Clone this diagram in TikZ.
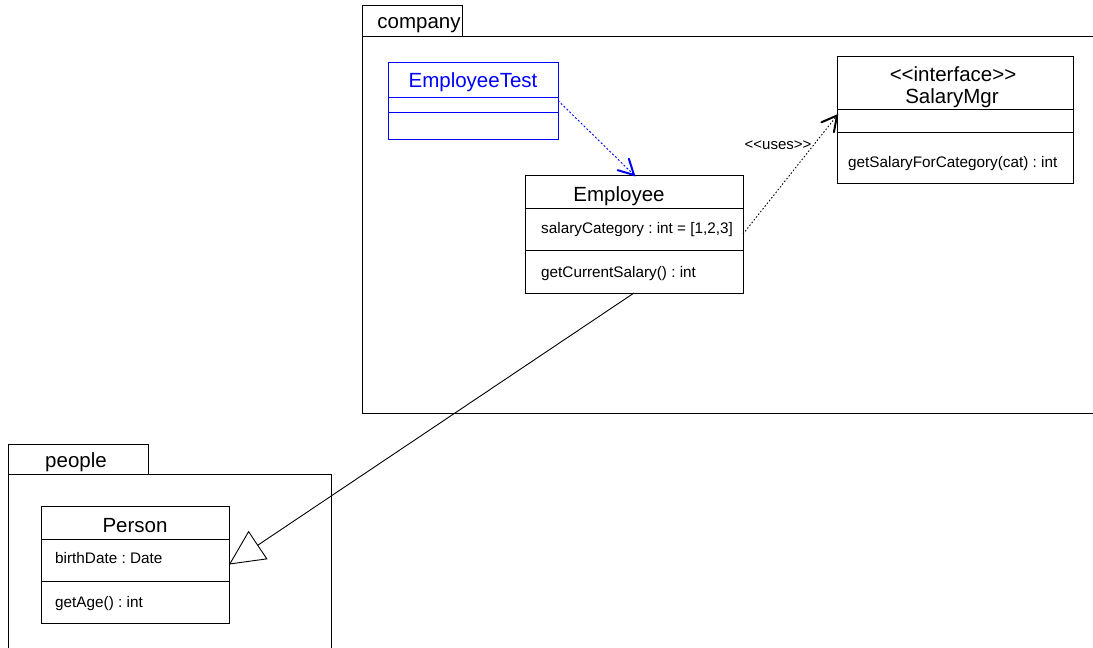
\documentclass[tikz,border=0pt]{standalone}
\usepackage{fontspec}
\setmainfont{Liberation Sans}
\usetikzlibrary{arrows.meta,calc}
\definecolor{testblue}{RGB}{0,0,255}
\frenchspacing
\begin{document}
\begin{tikzpicture}[x=1pt,y=-1pt,
  pkgline/.style={draw=black, line width=0.9pt},
  classbox/.style={draw, line width=0.9pt, inner sep=0pt, outer sep=0pt, anchor=north west},
  divider/.style={line width=0.9pt},
  pkgname/.style={font=\fontsize{20.5}{24}\selectfont, anchor=base, inner sep=0pt},
  clsname/.style={font=\fontsize{20.5}{24}\selectfont, anchor=base, inner sep=0pt},
  member/.style={font=\fontsize{15.3}{18}\selectfont, anchor=base west, inner sep=0pt},
  stereo/.style={font=\fontsize{15}{18}\selectfont, anchor=base, inner sep=0pt},
  openhead/.style={solid, line width=2pt, line cap=round, line join=miter},
  depend/.style={testblue, line width=0.9pt, dash pattern=on 2pt off 2pt},
  usage/.style={black, line width=0.9pt, dash pattern=on 1.5pt off 2pt},
  generalize/.style={black, line width=0.9pt,
    -{Triangle[open, length=35pt, width=34pt, line width=0.9pt]}}]
\useasboundingbox (0,0) rectangle (1093,648);
\clip (0,0) rectangle (1093,648);

% ---- package: company ----
\draw[pkgline] (362,5) rectangle (462,36);
\draw[pkgline] (362,36) rectangle (1110,413);
\node[pkgname] (companylbl) at (419,28) {company};

% ---- package: people ----
\draw[pkgline] (8,444) rectangle (148,474);
\draw[pkgline] (8,474) rectangle (331,660);
\node[pkgname] (peoplelbl) at (76,467) {people};

% ---- class EmployeeTest ----
\node[classbox, draw=testblue, minimum width=170pt, minimum height=77pt] (etest) at (388,62) {};
\draw[divider, testblue] (388,97) -- (558,97);
\draw[divider, testblue] (388,112) -- (558,112);
\node[clsname, text=testblue] (etestname) at (473,87) {EmployeeTest};

% ---- class Employee ----
\node[classbox, minimum width=218pt, minimum height=118pt] (emp) at (525,175) {};
\draw[divider] (525,208) -- (743,208);
\draw[divider] (525,250) -- (743,250);
\node[clsname] (empname) at (619,201) {Employee};
\node[member] (empattr) at (541,233) {salaryCategory : int = [1,2,3]};
\node[member] (empop) at (541,277) {getCurrentSalary() : int};

% ---- interface SalaryMgr ----
\node[classbox, minimum width=236pt, minimum height=127pt] (mgr) at (837,56) {};
\draw[divider] (837,109) -- (1073,109);
\draw[divider] (837,132) -- (1073,132);
\node[clsname] (mgrstereo) at (953,81) {<{}<interface>{}>};
\node[clsname] (mgrname) at (952,103) {SalaryMgr};
\node[member] (mgrop) at (848,167) {getSalaryForCategory(cat) : int};

% ---- class Person ----
\node[classbox, minimum width=188pt, minimum height=117pt] (person) at (41,506) {};
\draw[divider] (41,539) -- (229,539);
\draw[divider] (41,581) -- (229,581);
\node[clsname] (personname) at (135,532) {Person};
\node[member] (personattr) at (55,563) {birthDate : Date};
\node[member] (personop) at (55,607) {getAge() : int};

% ---- relationships ----
% dashed shafts with solid open "V" heads
\coordinate (mgrin) at ([yshift=4pt]mgr.west);
\draw[depend] (etest.east) -- (emp.north);
\draw[testblue, openhead]
  ($(emp.north)!17pt!28:(etest.east)$) -- (emp.north) -- ($(emp.north)!17pt!-28:(etest.east)$);
\draw[usage] (emp.east) -- (mgrin);
\draw[black, openhead]
  ($(mgrin)!17pt!28:(emp.east)$) -- (mgrin) -- ($(mgrin)!17pt!-28:(emp.east)$);
\node[stereo] (useslbl) at (778,149) {<{}<uses>{}>};
\draw[generalize] (emp.south) -- (person.east);
\end{tikzpicture}
\end{document}
